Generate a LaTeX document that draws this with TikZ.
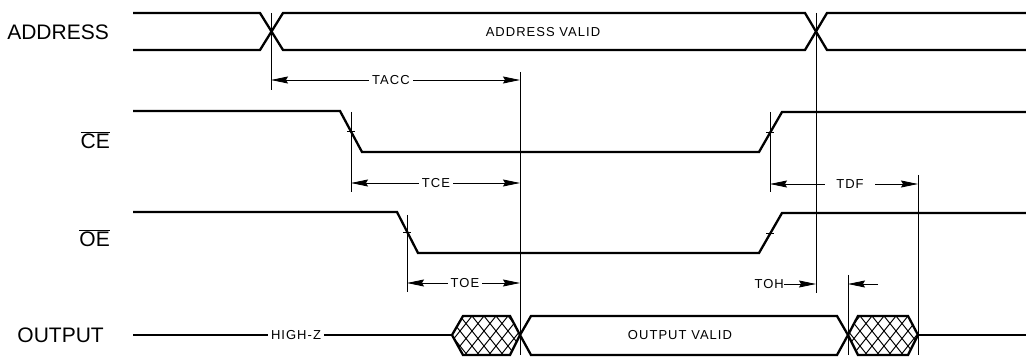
\documentclass[tikz,border=0pt]{standalone}
\usepackage{fontspec}
\setmainfont{Liberation Sans}
\usetikzlibrary{arrows.meta}
\begin{document}
\begin{tikzpicture}[x=1pt,y=-1pt,
  sig/.style={line width=2.3pt, line join=miter},
  outl/.style={line width=1.5pt},
  thinl/.style={line width=0.8pt},
  hatchl/.style={line width=1pt},
  dimar/.style={line width=0.9pt, {Stealth[length=17pt,width=7pt,inset=2pt]}-{Stealth[length=17pt,width=7pt,inset=2pt]}},
  onear/.style={line width=0.9pt, -{Stealth[length=17pt,width=7pt,inset=2pt]}},
  lbl/.style={font=\fontsize{21}{21}\selectfont, anchor=east, inner sep=0pt},
  small/.style={font=\fontsize{13}{13}\selectfont\addfontfeature{LetterSpace=8}, fill=white, inner sep=3pt}]
\useasboundingbox (0,0) rectangle (1026,358);
% labels
\node[lbl] (lA) at (109,32) {ADDRESS};
\node[lbl] (lCE) at (110,140) {$\overline{\mbox{CE}}$};
\node[lbl] (lOE) at (110,238) {$\overline{\mbox{OE}}$};
\node[lbl] (lO) at (104,335) {OUTPUT};
% address bus
\draw[sig] (133,13) -- (260,13) -- (283,50) -- (805,50) -- (827,13) -- (1026,13);
\draw[sig] (133,50) -- (260,50) -- (283,13) -- (805,13) -- (827,50) -- (1026,50);
\node[small,fill=none] (av) at (543,32) {ADDRESS VALID};
% CE and OE
\draw[sig] (133,111) -- (340,111) -- (362,152) -- (759,152) -- (782,112) -- (1026,112);
\draw[sig] (133,212) -- (397,212) -- (418,253) -- (759,253) -- (782,213) -- (1026,213);
% coordinates
\coordinate (c1) at (351,131.5);
\coordinate (c2) at (770,132);
\coordinate (o1) at (407,232.5);
\coordinate (o2) at (770,233);
\foreach \p in {c1,c2,o1,o2} \draw[thinl] ([xshift=-4pt]\p) -- ([xshift=4pt]\p);
% vertical reference lines
\draw[thinl] (271,13) -- (271,90);
\draw[thinl] (816,13) -- (816,293);
\draw[thinl] (520,72) -- (520,355);
\draw[thinl] (351,112) -- (351,192);
\draw[thinl] (770,112) -- (770,192);
\draw[thinl] (918,175) -- (918,355);
\draw[thinl] (407,215) -- (407,292);
\draw[thinl] (848,275) -- (848,355);
% dimension arrows
\coordinate (tacL) at (271,80); \coordinate (tacR) at (520,80);
\draw[dimar] (tacL) -- (tacR);
\node[small] (tacc) at (391,80) {TACC};
\coordinate (tceL) at (351,183); \coordinate (tceR) at (520,183);
\draw[dimar] (tceL) -- (tceR);
\node[small] (tce) at (436,183) {TCE};
\coordinate (tdfL) at (770,184); \coordinate (tdfR) at (918,184);
\draw[dimar] (tdfL) -- (tdfR);
\node[small,inner xsep=11pt] (tdf) at (850,184) {TDF};
\coordinate (toeL) at (407,283); \coordinate (toeR) at (520,283);
\draw[dimar] (toeL) -- (toeR);
\node[small] (toe) at (465,283) {TOE};
\node[small,fill=none,anchor=east,inner sep=0pt] (toh) at (784,284) {TOH};
\coordinate (tohR) at (816,284);
\draw[onear] (toh.east) -- (tohR);
\coordinate (tz0) at (878,284); \coordinate (tzR) at (848,284);
\draw[onear] (tz0) -- (tzR);
% output
\draw[outl] (133,335) -- (452,335);
\node[small] (hz) at (296,335) {HIGH-Z};
\draw[outl] (918,335) -- (1026,335);
\begin{scope}
\clip (452,335) -- (463,316) -- (510,316) -- (520,335) -- (510,355) -- (463,355) -- cycle;
\foreach \x in {400,412,...,580} {\draw[hatchl] (\x,316) -- ++(32,40); \draw[hatchl] (\x,316) -- ++(-32,40);}
\end{scope}
\draw[sig] (452,335) -- (463,316) -- (510,316) -- (520,335) -- (510,355) -- (463,355) -- cycle;
\begin{scope}
\clip (848,335) -- (858,316) -- (908,316) -- (918,335) -- (908,355) -- (858,355) -- cycle;
\foreach \x in {800,812,...,970} {\draw[hatchl] (\x,316) -- ++(32,40); \draw[hatchl] (\x,316) -- ++(-32,40);}
\end{scope}
\draw[sig] (848,335) -- (858,316) -- (908,316) -- (918,335) -- (908,355) -- (858,355) -- cycle;
\draw[sig] (520,335) -- (531,316) -- (837,316) -- (848,335) -- (837,355) -- (531,355) -- cycle;
\node[small,fill=none] (ov) at (680,335) {OUTPUT VALID};
\end{tikzpicture}
\end{document}
